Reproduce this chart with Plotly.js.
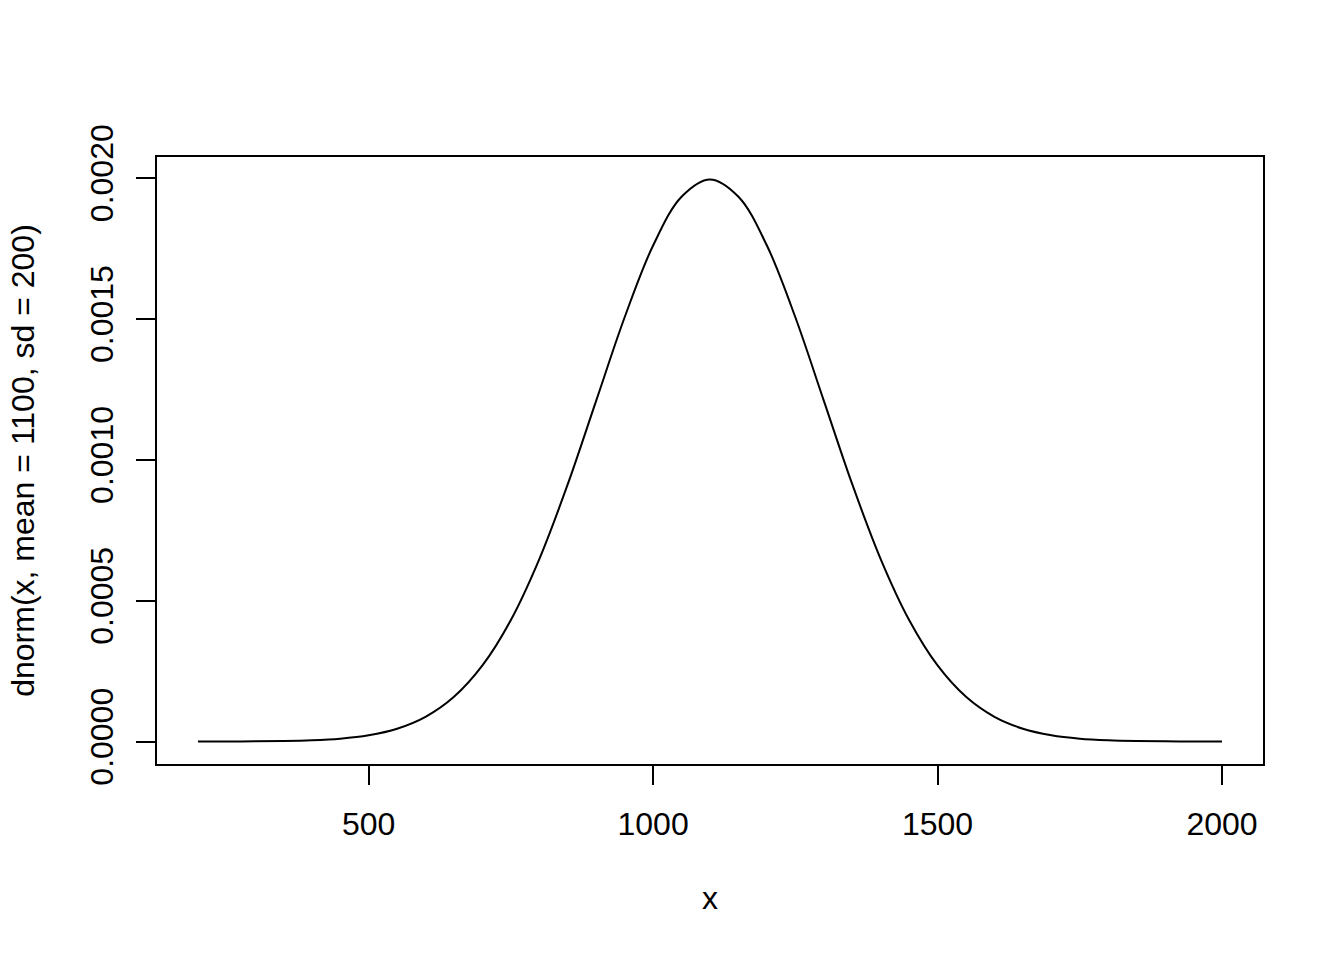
<!DOCTYPE html>
<html>
<head>
<meta charset="utf-8">
<script src="https://cdn.plot.ly/plotly-3.0.1.min.js"></script>
<style>html,body{margin:0;padding:0;background:#fff;}#plot{width:1344px;height:960px;}</style>
</head>
<body>
<div id="plot"></div>
<script>
// x positions of the curve
var xValues = [200,250,300,350,400,450,500,550,600,650,700,750,800,850,900,950,1000,1050,1100,
               1150,1200,1250,1300,1350,1400,1450,1500,1550,1600,1650,1700,1750,1800,1850,1900,1950,2000];
// estimated density values
var densityValues = [0.0000001,0.0000002,0.0000007,0.0000018,0.0000044,0.0000101,0.0000222,0.0000455,0.0000876,
                     0.0001587,0.0002700,0.0004313,0.0006476,0.0009132,0.0012099,0.0015057,0.0017603,0.0019333,0.0019947,
                     0.0019333,0.0017603,0.0015057,0.0012099,0.0009132,0.0006476,0.0004313,0.0002700,0.0001587,
                     0.0000876,0.0000455,0.0000222,0.0000101,0.0000044,0.0000018,0.0000007,0.0000002,0.0000001];
var xTicks = [500,1000,1500,2000];
var xTickLabels = ["500","1000","1500","2000"];
var yTicks = [0,0.0005,0.001,0.0015,0.002];
var yTickLabels = ["0.0000","0.0005","0.0010","0.0015","0.0020"];

var font = {family: "Liberation Sans, Arial, sans-serif", size: 32, color: "#000"};

var trace = {
  x: xValues, y: densityValues, type: "scatter", mode: "lines",
  line: {color: "#000", width: 2, shape: "spline"}, hoverinfo: "none"
};

var layout = {
  width: 1344, height: 960,
  margin: {l: 157, r: 81, t: 157, b: 196, pad: 0},
  paper_bgcolor: "#fff", plot_bgcolor: "#fff",
  showlegend: false,
  font: font,
  xaxis: {
    range: [128, 2072], tickvals: xTicks, ticktext: xTickLabels,
    ticks: "outside", ticklen: 19, tickwidth: 2, tickcolor: "#000",
    showline: true, mirror: true, linecolor: "#000", linewidth: 2,
    showgrid: false, zeroline: false, tickfont: font,
    ticklabelstandoff: 12,
    title: {text: "x", font: font, standoff: 45}
  },
  yaxis: {
    range: [-0.0000798, 0.0020745], tickvals: yTicks, ticktext: yTickLabels,
    ticks: "outside", ticklen: 19, tickwidth: 2, tickcolor: "#000",
    showline: true, mirror: true, linecolor: "#000", linewidth: 2,
    showgrid: false, zeroline: false, tickfont: font, tickangle: -90,
    ticklabelstandoff: 10,
    title: {text: "dnorm(x, mean = 1100, sd = 200)", font: font, standoff: 40}
  }
};

Plotly.newPlot("plot", [trace], layout, {staticPlot: true, displayModeBar: false});
</script>
</body>
</html>
